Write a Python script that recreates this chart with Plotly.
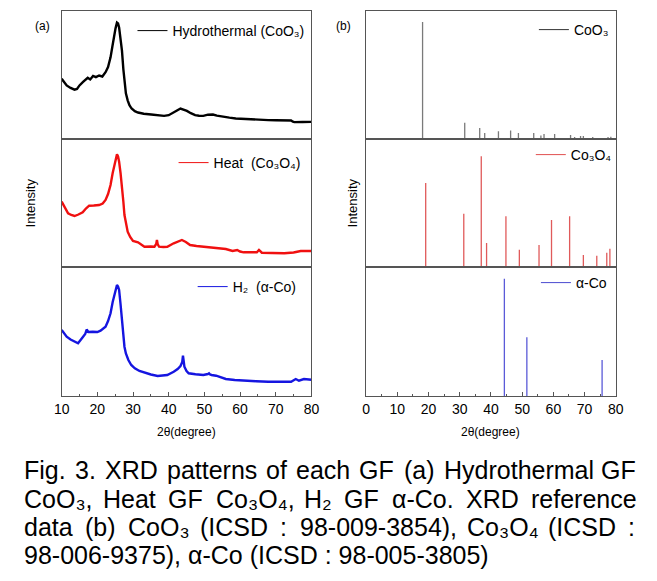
import plotly.graph_objects as go

W, H = 657, 581

# ---------------- data: measured XRD patterns (panel a) ----------------
hydro_2theta = [10.0, 11.4, 12.5, 13.6, 14.3, 15.0, 16.0, 17.3, 18.0, 18.8, 19.6, 20.5, 21.4, 22.3, 23.0, 23.7,
                24.2, 24.6, 25.1, 25.5, 25.8, 26.1, 26.5, 26.9, 27.3, 27.6, 28.0, 28.5, 29.0, 29.6, 30.5, 31.4,
                33.0, 35.1, 37.0, 38.7, 40.0, 41.0, 42.2, 43.3, 44.2, 45.1, 46.2, 47.4, 48.5, 49.7, 51.0, 52.4,
                53.5, 55.1, 57.0, 58.8, 61.0, 63.3, 65.5, 67.9, 70.0, 72.0, 74.3, 74.8, 75.2, 77.5, 80.0]
hydro_int = [60.7, 54.0, 51.5, 49.7, 50.5, 54.0, 57.5, 61.7, 60.0, 63.5, 62.3, 64.0, 63.0, 67.3, 72.5, 82.3,
             93.0, 102.3, 111.5, 117.3, 116.5, 112.3, 101.0, 89.0, 70.0, 55.7, 46.0, 39.0, 34.0, 30.7, 28.0, 26.7,
             25.5, 24.7, 24.0, 23.3, 24.0, 25.7, 28.5, 30.7, 29.5, 28.3, 26.0, 24.0, 23.5, 23.3, 24.5, 24.7,
             23.5, 22.3, 21.5, 20.7, 20.2, 19.7, 19.4, 19.0, 18.9, 18.8, 18.7, 17.5, 17.0, 17.2, 17.3]

heat_2theta = [10.0, 11.0, 11.8, 12.7, 13.6, 14.7, 15.9, 16.8, 17.7, 19.0, 20.5, 21.5, 22.3, 23.0, 23.7,
               24.3, 24.9, 25.2, 25.5, 25.8, 26.1, 26.5, 26.9, 27.3, 27.6, 28.0, 28.5, 29.2, 30.0, 31.4,
               33.2, 35.0, 36.0, 36.5, 36.7, 36.9, 37.3, 38.5, 39.6, 41.4, 42.6, 43.7, 44.8, 46.0, 47.8,
               49.7, 52.0, 54.2, 56.0, 57.9, 59.2, 60.0, 61.0, 63.0, 64.7, 65.3, 66.1, 69.0, 72.4, 75.0,
               77.0, 80.0]
heat_int = [65.3, 58.0, 53.7, 52.0, 51.0, 52.5, 54.7, 58.5, 61.3, 61.5, 62.0, 63.5, 67.0, 73.0, 82.0,
            94.0, 105.3, 110.0, 112.7, 110.5, 105.3, 94.0, 82.0, 65.0, 52.0, 43.0, 35.3, 30.0, 26.0, 24.7,
            20.3, 20.5, 20.3, 23.0, 27.0, 23.0, 20.3, 20.0, 20.3, 23.7, 25.5, 27.0, 25.0, 22.0, 21.0,
            20.3, 19.8, 19.3, 18.0, 16.0, 17.0, 15.5, 14.7, 14.7, 14.7, 17.0, 14.3, 14.0, 13.7, 14.5,
            16.0, 16.0]

h2_2theta = [10.0, 11.4, 12.5, 13.6, 14.6, 15.9, 16.6, 17.0, 17.5, 18.7, 20.0, 20.9, 22.3, 23.0, 23.7,
             24.3, 24.9, 25.2, 25.5, 25.8, 26.1, 26.5, 26.9, 27.3, 27.6, 28.0, 28.7, 29.5, 30.5, 31.8,
             33.2, 35.0, 36.9, 38.3, 39.6, 41.4, 42.5, 43.3, 43.8, 44.0, 44.2, 44.4, 45.0, 45.6, 47.5,
             49.7, 51.0, 51.3, 51.6, 52.0, 53.3, 54.5, 56.0, 58.5, 61.0, 64.5, 67.9, 71.0, 74.3, 75.6,
             76.5, 77.9, 80.0]
h2_int = [66.0, 59.3, 56.5, 54.3, 52.7, 58.7, 62.0, 66.5, 64.0, 64.3, 64.0, 65.3, 69.3, 75.0, 82.7,
          94.0, 104.3, 108.5, 111.0, 109.5, 106.0, 92.0, 76.0, 60.0, 49.3, 42.5, 36.0, 31.0, 27.7, 25.0,
          23.3, 21.5, 20.0, 20.3, 21.0, 24.3, 27.0, 30.0, 34.0, 40.3, 33.0, 29.3, 25.0, 22.7, 21.8,
          21.0, 22.0, 22.7, 21.5, 21.0, 20.3, 18.5, 17.0, 16.0, 15.3, 14.8, 14.3, 14.3, 14.3, 17.0,
          15.3, 17.0, 16.3]

# ---------------- data: reference stick patterns (panel b) ----------------
coo3_pos = [18.1, 31.6, 36.4, 38.0, 42.4, 46.3, 48.8, 53.7, 56.0, 57.0, 60.4, 65.5, 66.8, 68.7, 69.6, 72.6, 77.5, 78.4]
coo3_int = [100, 13.8, 9.5, 5.2, 6.6, 7.2, 5.2, 5.2, 3.0, 4.3, 4.3, 3.4, 1.7, 2.6, 2.6, 1.7, 1.7, 2.0]

co3o4_pos = [19.1, 31.3, 36.9, 38.6, 44.8, 49.1, 55.4, 59.4, 65.2, 69.6, 73.9, 77.1, 78.1]
co3o4_int = [75.9, 48.2, 100, 21.7, 45.8, 15.6, 19.9, 42.5, 45.8, 10.8, 10.2, 12.9, 16.5]

aco_pos = [44.3, 51.5, 75.6]
aco_int = [100, 50.1, 30.7]

left_ticks = [10, 20, 30, 40, 50, 60, 70, 80]
right_ticks = [0, 10, 20, 30, 40, 50, 60, 70, 80]

FONT = "Liberation Sans, Arial, DejaVu Sans, sans-serif"


def px(x):
    return x / W


def py(y):
    return 1 - y / H


def sticks(pos, inten):
    xs, ys = [], []
    for p, i in zip(pos, inten):
        xs += [p, p, None]
        ys += [0, i, None]
    return xs, ys


fig = go.Figure()

rows = [(11, 139), (139, 267), (267, 396)]
panels = [(55, 311), (367, 623)]
yranges = [[[0, 129], [0, 128], [0, 129]], [[0, 109.5], [0, 115.6], [0, 110]]]

# panel a traces
curves = [
    (hydro_2theta, hydro_int, "black", "Hydrothermal (CoO₃)"),
    (heat_2theta, heat_int, "#f01010", "Heat  (Co₃O₄)"),
    (h2_2theta, h2_int, "#1515e0", "H₂  (α-Co)"),
]
for r, (xv, yv, col, name) in enumerate(curves):
    n = r + 1
    lg = "legend" if n == 1 else f"legend{n}"
    fig.add_trace(go.Scatter(x=xv, y=yv, mode="lines", line=dict(color=col, width=2.4),
                             name=name, xaxis=f"x{n}", yaxis=f"y{n}", showlegend=False))
    # legend-only entry with the thin legend line of the reference
    fig.add_trace(go.Scatter(x=[None], y=[None], mode="lines", line=dict(color=col, width=1),
                             name=name, xaxis=f"x{n}", yaxis=f"y{n}", legend=lg))

stick_sets = [
    (coo3_pos, coo3_int, "#7a7a7a", "#333333", "CoO₃"),
    (co3o4_pos, co3o4_int, "#e05a5a", "#e05050", "Co₃O₄"),
    (aco_pos, aco_int, "#5a5ad8", "#4a4ad0", "α-Co"),
]
for r, (pos, inten, col, lcol, name) in enumerate(stick_sets):
    n = r + 4
    xs, ys = sticks(pos, inten)
    fig.add_trace(go.Scatter(x=xs, y=ys, mode="lines", line=dict(color=col, width=1.3),
                             name=name, xaxis=f"x{n}", yaxis=f"y{n}", showlegend=False))
    fig.add_trace(go.Scatter(x=[None], y=[None], mode="lines", line=dict(color=lcol, width=1),
                             name=name, xaxis=f"x{n}", yaxis=f"y{n}", legend=f"legend{n}"))

layout = dict(width=W, height=H, margin=dict(l=0, r=0, t=0, b=0),
              paper_bgcolor="white", plot_bgcolor="white", showlegend=True,
              font=dict(family=FONT, size=14, color="black"))

for p, (x0, x1) in enumerate(panels):
    for r, (top, bot) in enumerate(rows):
        n = p * 3 + r + 1
        bottom = (r == 2)
        xa = dict(domain=[px(x0), px(x1)], range=[10, 80] if p == 0 else [0, 80],
                  anchor=f"y{n}", showline=True, mirror=True, linecolor="#555", linewidth=1,
                  showgrid=False, zeroline=False, showticklabels=bottom,
                  ticks="inside" if bottom else "", ticklen=4, tickcolor="#555",
                  tickvals=(left_ticks if p == 0 else right_ticks),
                  tickfont=dict(size=14, family=FONT))
        if bottom:
            xa["minor"] = dict(dtick=5, ticks="inside", ticklen=2, tickcolor="#555")
        ya = dict(domain=[py(bot), py(top)], range=yranges[p][r], anchor=f"x{n}",
                  showline=True, mirror=True, linecolor="#555", linewidth=1,
                  showgrid=False, zeroline=False, showticklabels=False, ticks="")
        layout[f"xaxis{n}"] = xa
        layout[f"yaxis{n}"] = ya

# legends (right edge, vertical centre in pixels)
leg_pos = [(309, 31), (305, 163), (301, 287), (621, 30), (624, 155), (619, 283)]
for i, (xr, yc) in enumerate(leg_pos):
    key = "legend" if i == 0 else f"legend{i+1}"
    layout[key] = dict(x=px(xr), y=py(yc), xanchor="right", yanchor="middle",
                       bgcolor="rgba(0,0,0,0)", borderwidth=0,
                       font=dict(size=14, family=FONT, color="black"), itemwidth=30)

fig.update_layout(**layout)


def note(x, y, text, size, angle=0, xanchor="center"):
    fig.add_annotation(x=px(x), y=py(y), xref="paper", yref="paper", text=text, showarrow=False,
                       xanchor=xanchor, yanchor="middle", textangle=angle, borderpad=0,
                       font=dict(size=size, family=FONT, color="black"))


note(27, 26, "(a)", 12, xanchor="left")
note(335, 26, "(b)", 12, xanchor="left")
note(23, 203, "Intensity", 13, angle=-90)
note(353, 203, "Intensity", 13, angle=-90)
note(183, 432, "2θ(degree)", 12)
note(495, 432, "2θ(degree)", 12)

# ---------------- caption (justified) ----------------
AW = {' ': 278, '(': 333, ')': 333, ',': 278, '-': 333, '.': 278, ':': 278,
      'A': 667, 'C': 722, 'D': 722, 'F': 611, 'G': 778, 'H': 722, 'I': 278, 'O': 778, 'R': 722,
      'S': 667, 'X': 667, 'a': 556, 'b': 556, 'c': 500, 'd': 556, 'e': 556, 'f': 278, 'g': 556,
      'h': 556, 'i': 222, 'l': 222, 'm': 833, 'n': 556, 'o': 556, 'p': 556, 'r': 333, 's': 500,
      't': 278, 'y': 500, 'α': 578, '₂': 360, '₃': 360, '₄': 360}
for dch in "0123456789":
    AW[dch] = 556


def text_width(s, size):
    return sum(AW.get(ch, 556) for ch in s) * size / 1000


CAP = 25
cap_lines = [
    ("Fig. 3. XRD patterns of each GF (a) Hydrothermal GF", 470, True),
    ("CoO₃, Heat GF Co₃O₄, H₂ GF α-Co. XRD reference", 498.5, True),
    ("data (b) CoO₃ (ICSD : 98-009-3854), Co₃O₄ (ICSD :", 527, True),
    ("98-006-9375), α-Co (ICSD : 98-005-3805)", 555, False),
]
XL, XR = 15, 641
for text, yc, just in cap_lines:
    if not just:
        note(XL, yc, text, CAP, xanchor="left")
        continue
    words = text.split(" ")
    widths = [text_width(w, CAP) for w in words]
    gap = (XR - XL - sum(widths)) / (len(words) - 1)
    x = XL
    for w, ww in zip(words, widths):
        note(x, yc, w, CAP, xanchor="left")
        x += ww + gap

fig.write_html("out.html", config={"displayModeBar": False},
               post_script="document.body.style.margin='0';")
